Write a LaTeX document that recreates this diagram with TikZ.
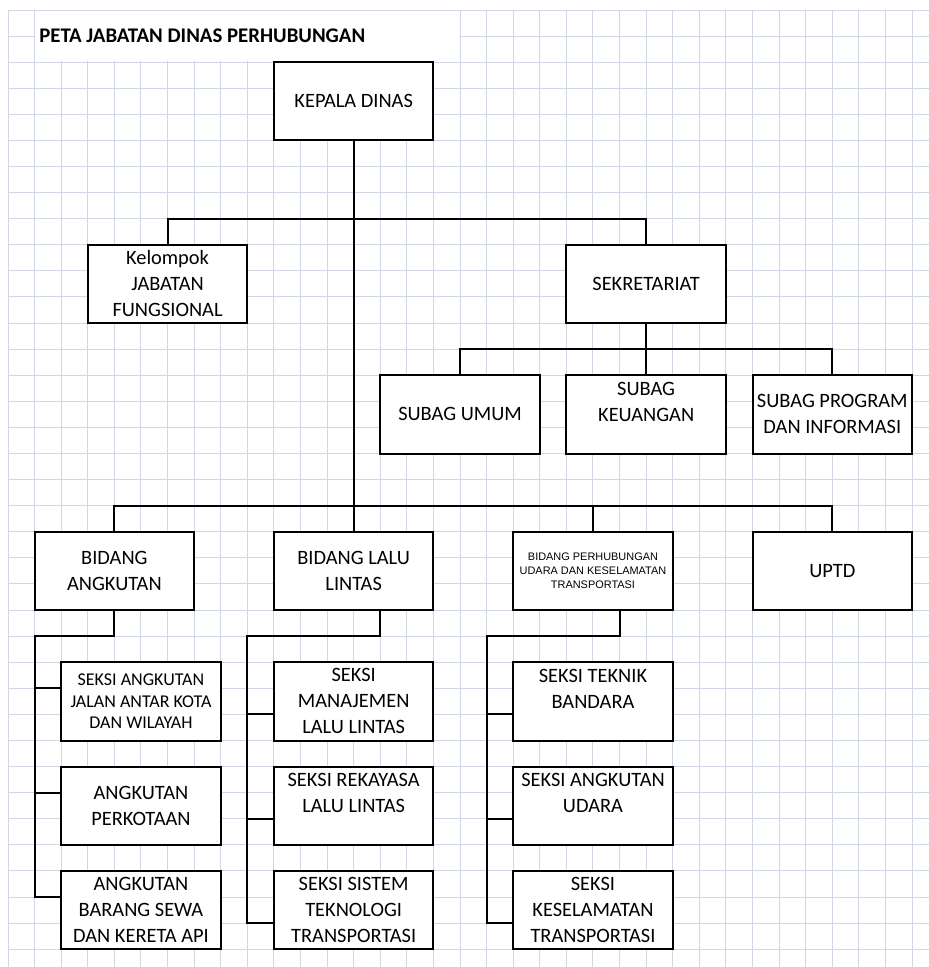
\documentclass[tikz,border=0pt]{standalone}
\usepackage{fontspec}
\setmainfont{Carlito}
\newfontfamily\arialfont{Liberation Sans}
\usepackage{xcolor}
\definecolor{gridblue}{HTML}{D0D7E5}
\def\nrows{36}
\def\ncols{34}
\def\colw{19.9425pt}
\def\rowh{19.5675pt}
\newcommand{\drawsheet}{
  \foreach \col in {0, ..., \ncols} {
    \draw[gridline] (\col, 0) -- (\col, 36.68);
  }
  \foreach \row in {0, ..., \nrows} {
    \draw[gridline] (0, \row) -- (34.64, \row);
  }
  \fill[white] (1.03, 0.03) rectangle (16.97, 1.97);
}
\tikzset{
  gridline/.style={gridblue, line width=0.75pt},
  orgbox/.style={draw=black, fill=white, line width=1.5pt, outer sep=0pt,
    minimum width=6*\colw, minimum height=3*\rowh, inner sep=0pt, align=center,
    font=\fontsize{15.3}{19.5}\selectfont},
  link/.style={black, line width=1.5pt},
}

\begin{document}
\begin{tikzpicture}[x=\colw, y=-\rowh]
    \useasboundingbox (-0.3009, -0.3833) rectangle (34.637, 36.681);
    \drawsheet{}
    \node[anchor=base west, font=\bfseries\fontsize{15.6}{18}\selectfont] (title) at (1.0, 1.24) {PETA JABATAN DINAS PERHUBUNGAN};
    \node[orgbox] (kepala) at (13, 3.5) {KEPALA DINAS};
    \node[orgbox] (kelompok) at (6, 10.5) {Kelompok\\JABATAN\\FUNGSIONAL};
    \node[orgbox] (sekretariat) at (24, 10.5) {SEKRETARIAT};
    \node[orgbox] (umum) at (17, 15.5) {SUBAG UMUM};
    \node[orgbox] (keuangan) at (24, 15.5) {SUBAG\\KEUANGAN\\~};
    \node[orgbox] (program) at (31, 15.5) {SUBAG PROGRAM\\DAN INFORMASI};
    \node[orgbox] (bidangkt) at (4, 21.5) {BIDANG\\ANGKUTAN};
    \node[orgbox] (bidlalu) at (13, 21.5) {BIDANG LALU\\LINTAS};
    \node[orgbox, font=\arialfont\fontsize{8.2}{10.7}\selectfont] (bidudara) at (22, 21.5) {BIDANG PERHUBUNGAN\\UDARA DAN KESELAMATAN\\TRANSPORTASI};
    \node[orgbox] (uptd) at (31, 21.5) {UPTD};
    \node[orgbox, font=\fontsize{13.5}{16}\selectfont] (sajalan) at (5, 26.5) {SEKSI ANGKUTAN\\JALAN ANTAR KOTA\\DAN WILAYAH};
    \node[orgbox] (skota) at (5, 30.5) {ANGKUTAN\\PERKOTAAN};
    \node[orgbox] (sbarang) at (5, 34.5) {ANGKUTAN\\BARANG SEWA\\DAN KERETA API};
    \node[orgbox] (smanajemen) at (13, 26.5) {SEKSI\\MANAJEMEN\\LALU LINTAS};
    \node[orgbox] (srekayasa) at (13, 30.5) {SEKSI REKAYASA\\LALU LINTAS\\~};
    \node[orgbox] (ssistem) at (13, 34.5) {SEKSI SISTEM\\TEKNOLOGI\\TRANSPORTASI};
    \node[orgbox] (steknik) at (22, 26.5) {SEKSI TEKNIK\\BANDARA\\~};
    \node[orgbox] (sudara) at (22, 30.5) {SEKSI ANGKUTAN\\UDARA\\~};
    \node[orgbox] (skeselamatan) at (22, 34.5) {SEKSI\\KESELAMATAN\\TRANSPORTASI};
    \draw[link] (kepala.south) -- (bidlalu.north);
    \draw[link] (kelompok.north) -- ++(0, -1) -| (sekretariat.north);
    \draw[link] (sekretariat.south) -- (keuangan.north);
    \draw[link] (umum.north) -- ++(0, -1) -| (program.north);
    \draw[link] (bidangkt.north) -- ++(0, -1) -| (uptd.north);
    \draw[link] (bidudara.north) -- ++(0, -1);
    \draw[link] (bidangkt.south) -- ++(0, 1) -| ([shift={(-1, 1)}]sbarang.north west) -- ([shift={(0, 1)}]sbarang.north west);
    \draw[link] ([shift={(-1, 1)}]sajalan.north west) -- ([shift={(0, 1)}]sajalan.north west);
    \draw[link] ([shift={(-1, 1)}]skota.north west) -- ([shift={(0, 1)}]skota.north west);
    \draw[link] ([shift={(1, 0)}]bidlalu.south) -- ++(0, 1) -| ([shift={(-1, 2)}]ssistem.north west) -- ([shift={(0, 2)}]ssistem.north west);
    \draw[link] ([shift={(-1, 2)}]smanajemen.north west) -- ([shift={(0, 2)}]smanajemen.north west);
    \draw[link] ([shift={(-1, 2)}]srekayasa.north west) -- ([shift={(0, 2)}]srekayasa.north west);
    \draw[link] ([shift={(1, 0)}]bidudara.south) -- ++(0, 1) -| ([shift={(-1, 2)}]skeselamatan.north west) -- ([shift={(0, 2)}]skeselamatan.north west);
    \draw[link] ([shift={(-1, 2)}]steknik.north west) -- ([shift={(0, 2)}]steknik.north west);
    \draw[link] ([shift={(-1, 2)}]sudara.north west) -- ([shift={(0, 2)}]sudara.north west);
\end{tikzpicture}
\end{document}
